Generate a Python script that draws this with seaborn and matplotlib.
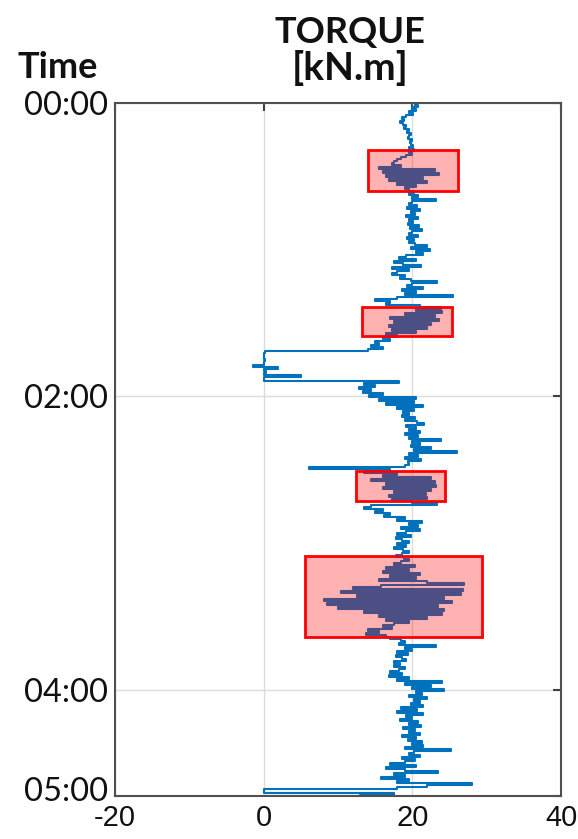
import numpy as np
import pandas as pd
import matplotlib
matplotlib.use("Agg")
import matplotlib.pyplot as plt
import matplotlib.transforms as mtransforms
import seaborn as sns
from matplotlib.patches import Rectangle

# ---- data (torque in kN.m, one sample every ~49 s) ----
torque_0000_0057 = [
    20.3, 20.8, 19.9, 20.5, 19.6, 20.1, 19.2, 18.6, 18.9, 18.3,
    18.7, 19.2, 18.9, 19.5, 19.3, 19.8, 19.6, 19.4, 19.9, 19.7,
    19.8, 20.1, 19.6, 20.2, 19.5, 19.9, 19.1, 18.5, 18.0, 17.6,
    17.2, 18.5, 15.5, 23.0, 16.0, 23.6, 16.5, 21.5, 16.8, 22.0,
    18.0, 20.5, 19.0, 19.6, 20.2, 19.5, 20.8, 19.9, 23.2, 20.0,
    19.5, 20.6, 19.3, 21.0, 19.8, 20.4, 19.2, 20.7, 19.6, 20.1,
    19.4, 20.9, 19.7, 21.3, 20.0, 19.5, 20.8, 19.3, 20.2, 19.6,
]
torque_0057_0154 = [
    20.3, 22.0, 19.8, 22.4, 20.5, 21.5, 19.2, 18.2, 20.5, 17.5,
    18.8, 21.2, 17.3, 19.5, 18.0, 17.2, 19.0, 18.4, 19.8, 23.3,
    20.0, 19.3, 21.4, 18.6, 20.5, 19.0, 25.5, 18.0, 15.0, 17.0,
    16.5, 21.0, 23.8, 20.5, 24.0, 19.0, 23.0, 17.0, 23.6, 17.5,
    22.5, 16.8, 22.0, 17.2, 20.5, 16.5, 18.0, 16.0, 17.0, 15.0,
    15.5, 14.5, 16.0, 14.0, 0.2, 0.0, 0.1, 0.0, 0.2, 0.0,
    0.0, -1.5, 1.9, 0.0, 0.3, 0.0, 5.0, 0.0, 0.1, 18.2,
]
torque_0154_0251 = [
    13.5, 15.0, 12.8, 14.5, 13.3, 16.0, 14.2, 20.5, 15.5, 20.2,
    16.5, 21.5, 18.0, 20.2, 18.8, 19.5, 18.6, 20.3, 19.0, 20.6,
    21.6, 19.2, 20.5, 19.5, 21.0, 19.0, 20.8, 19.6, 23.8, 20.0,
    21.0, 19.8, 22.5, 20.2, 26.0, 19.5, 20.8, 19.0, 21.2, 19.4,
    19.5, 19.0, 6.1, 17.0, 13.5, 18.0, 16.0, 22.5, 14.5, 23.0,
    16.5, 23.2, 16.0, 22.5, 17.5, 21.8, 16.8, 22.0, 17.2, 20.0,
    23.3, 14.5, 13.5, 16.0, 15.0, 17.0, 16.2, 19.0, 18.0, 21.3,
]
torque_0251_0348 = [
    19.5, 20.8, 18.5, 21.0, 19.2, 18.0, 19.8, 17.8, 18.6, 19.5,
    18.0, 19.2, 17.6, 18.8, 19.5, 18.6, 17.8, 18.9, 19.6, 18.5,
    17.5, 20.3, 16.5, 19.5, 16.0, 21.0, 17.0, 20.5, 15.5, 22.0,
    27.0, 15.8, 12.0, 26.8, 10.4, 26.5, 12.5, 24.3, 8.1, 25.4,
    8.5, 23.4, 10.0, 24.3, 13.5, 24.0, 15.5, 22.0, 16.5, 19.5,
    17.5, 16.0, 17.3, 14.0, 15.5, 13.8, 16.5, 17.0, 18.5, 19.0,
    18.2, 23.2, 19.0, 20.0, 18.0, 19.4, 17.8, 18.6, 19.2, 17.6,
]
torque_0348_0444 = [
    18.4, 17.5, 19.0, 18.2, 17.0, 18.6, 16.8, 19.5, 18.0, 24.0,
    19.0, 22.5, 20.0, 24.2, 20.5, 21.3, 19.6, 22.0, 20.2, 21.0,
    19.8, 21.5, 18.5, 20.6, 18.0, 21.4, 19.2, 20.0, 18.4, 20.8,
    19.5, 21.2, 18.8, 20.3, 19.6, 21.0, 18.6, 20.5, 19.4, 21.3,
    20.0, 21.5, 19.0, 25.2, 20.2, 19.5, 21.0, 18.6, 20.4, 19.0,
    17.0, 20.5, 16.5, 19.0, 23.5, 17.5, 19.0, 15.8, 19.5, 18.0,
    28.0, 22.0, 18.0, 0.1, 0.1, 17.5, 13.0, 15.0,
]
sample_step_h = 0.013633  # hours between samples

# highlighted zones (torque range, time range in hours)
box_torque_lo = [14.0, 13.2, 12.4, 5.5]
box_torque_hi = [26.1, 25.3, 24.4, 29.4]
box_time_lo = [0.32, 1.39, 2.51, 3.09]
box_time_hi = [0.60, 1.59, 2.71, 3.64]

x_ticks = [-20, 0, 20, 40]
y_tick_pos = [0, 2, 4, 4.724]
y_tick_labels = ["00:00", "02:00", "04:00", "05:00"]

torque = (torque_0000_0057 + torque_0057_0154 + torque_0154_0251
          + torque_0251_0348 + torque_0348_0444)
time_h = np.arange(len(torque)) * sample_step_h
df = pd.DataFrame({"torque": torque, "time": time_h})

sns.set_style("white")
plt.rcParams["font.family"] = ["Lato", "DejaVu Sans"]

fig = plt.figure(figsize=(5.78, 8.39), dpi=100)
ax = fig.add_axes([115 / 578, 1 - 796 / 839, 446 / 578, 693 / 839])

sns.lineplot(data=df, x="torque", y="time", orient="y", sort=False,
             estimator=None, color="#0072BD", linewidth=1.5,
             drawstyle="steps-pre", ax=ax, zorder=2)

for x0, x1, t0, t1 in zip(box_torque_lo, box_torque_hi, box_time_lo, box_time_hi):
    ax.add_patch(Rectangle((x0, t0), x1 - x0, t1 - t0,
                           facecolor=(1, 0, 0, 0.3), edgecolor="#FF0000",
                           linewidth=2, zorder=3))

ax.set_xlim(-20, 40)
ax.set_ylim(4.724, 0)
ax.set_xticks(x_ticks)
ax.set_xticklabels([str(v) for v in x_ticks], family="Liberation Sans", fontsize=21)
ax.set_yticks(y_tick_pos)
ax.set_yticklabels(y_tick_labels, fontsize=23.5)
ax.set_xlabel("")
ax.set_ylabel("")
ax.grid(True, color="#dcdcdc", linewidth=1.0, zorder=0)
ax.set_axisbelow(True)
ax.tick_params(direction="in", length=6, width=1.5, color="#404040",
               top=True, right=True, labelcolor="#111111")
ax.tick_params(axis="y", pad=5)
ax.tick_params(axis="x", pad=6)

# nudge the last time label up a little so it does not collide with "-20"
last_lbl = ax.get_yticklabels()[-1]
last_lbl.set_transform(last_lbl.get_transform()
                       + mtransforms.ScaledTranslation(0, 5 / 72, fig.dpi_scale_trans))

for s in ax.spines.values():
    s.set_visible(True)
    s.set_color("#505050")
    s.set_linewidth(1.5)

fig.text(350 / 578, 1 - 43 / 839, "TORQUE", ha="center", va="baseline",
         fontsize=26, fontweight="bold", color="#111111")
fig.text(350 / 578, 1 - 80 / 839, "[kN.m]", ha="center", va="baseline",
         fontsize=28, fontweight="bold", color="#111111")
fig.text(18 / 578, 1 - 78 / 839, "Time", ha="left", va="baseline",
         fontsize=26, fontweight="bold", color="#111111")

fig.savefig("out.png", dpi=100)
